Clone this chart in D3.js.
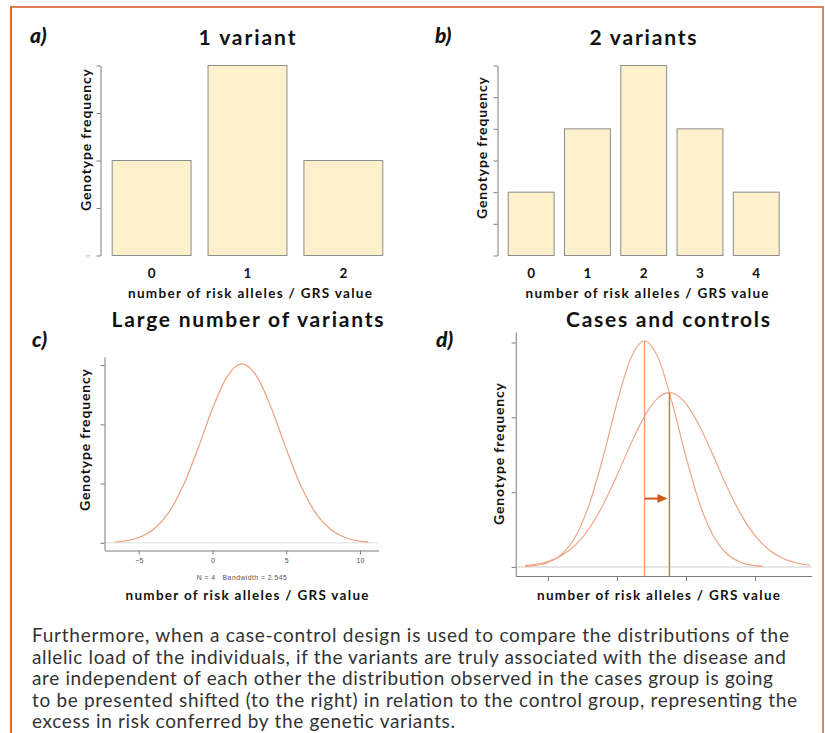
<!DOCTYPE html>
<html>
<head>
<meta charset="utf-8">
<script src="https://cdn.jsdelivr.net/npm/d3@7"></script>
<style>
  body { margin: 0; background: #fff; }
  svg { display: block; }
</style>
</head>
<body>
<svg id="fig" width="825" height="733"></svg>
<script>
// ---- a) one variant: genotype counts per number of risk alleles
const alleles1 = ["0", "1", "2"];
const freq1 = [1, 2, 1];
const yTicks1 = [0, 0.5, 1, 1.5, 2];

// ---- b) two variants
const alleles2 = ["0", "1", "2", "3", "4"];
const freq2 = [2, 4, 6, 4, 2];
const yTicks2 = [0, 1, 2, 3, 4, 5, 6];

// ---- c) large number of variants: density of the GRS
const grsX = [-6.64, -6, -5, -4, -3, -2, -1, 0, 1, 2, 3, 4, 5, 6, 7, 8, 9, 10, 10.57];
const grsDensity = [0.0007, 0.0015, 0.0045, 0.0114, 0.0251, 0.0479, 0.0792, 0.1134, 0.1405, 0.151,
                    0.1405, 0.1134, 0.0792, 0.0479, 0.0251, 0.0114, 0.0045, 0.0015, 0.0008];
const xTicksC = [-5, 0, 5, 10];
const yTicksDens = [0, 0.05, 0.10, 0.15];
const densityNote = "N = 4   Bandwidth = 2.545";

// ---- d) cases and controls
const controlX = [-6.64, -6, -5, -4, -3, -2, -1, 0, 1, 2, 3, 4, 5, 6, 7, 8, 9, 10, 10.57];
const controlDensity = [0.0004, 0.0009, 0.003, 0.0085, 0.0204, 0.042, 0.0735, 0.1096, 0.1394, 0.151,
                        0.1394, 0.1096, 0.0735, 0.042, 0.0204, 0.0085, 0.003, 0.0009, 0.0004];
const caseX = [-6.64, -6, -5, -4, -3, -2, -1, 0, 1, 2, 3, 3.8, 4, 5, 6, 7, 8, 9, 10, 11, 12, 13, 14];
const caseDensity = [0.0009, 0.0016, 0.0037, 0.0077, 0.0148, 0.0259, 0.0416, 0.0611, 0.0821, 0.1008,
                     0.1132, 0.1165, 0.1163, 0.1092, 0.0939, 0.0738, 0.053, 0.0348, 0.0209, 0.0115,
                     0.0058, 0.0027, 0.0011];
const xTicksD = [-5, 0, 5, 10];
const xLimD = [-7.33, 14.1];
const arrowLevel = 0.0457;

const panelTitles = ["1 variant", "2 variants", "Large number of variants", "Cases and controls"];
const panelLetters = ["a)", "b)", "c)", "d)"];
const xAxisTitle = "number of risk alleles / GRS value";
const yAxisTitle = "Genotype frequency";

const paragraph = [
  "Furthermore, when a case-control design is used to compare the distributions of the",
  "allelic load of the individuals, if the variants are truly associated with the disease and",
  "are independent of each other the distribution observed in the cases group is going",
  "to be presented shifted (to the right) in relation to the control group, representing the",
  "excess in risk conferred by the genetic variants."
];

// ------------------------------------------------------------------
const svg = d3.select("#fig");
const SANS = "Lato, 'Open Sans', sans-serif";
const AXIS = "#7d7d7d";
const INK = "#111";
const CURVE = "#f0a07e";

// outer frame
svg.append("line").attr("x1", 11).attr("x2", 823).attr("y1", 7).attr("y2", 7)
  .attr("stroke", "#dc7f52").attr("stroke-width", 2);
svg.append("line").attr("x1", 11).attr("x2", 11).attr("y1", 6).attr("y2", 733)
  .attr("stroke", "#e2652b").attr("stroke-width", 2);
svg.append("line").attr("x1", 823).attr("x2", 823).attr("y1", 6).attr("y2", 733)
  .attr("stroke", "#d6875f").attr("stroke-width", 2);

function boldText(x, y, str, size, len, anchor = "middle") {
  const t = svg.append("text").attr("x", x).attr("y", y).text(str)
    .attr("font-family", SANS).attr("font-weight", 700).attr("font-size", size)
    .attr("fill", INK).attr("text-anchor", anchor);
  if (len) t.attr("textLength", len).attr("lengthAdjust", "spacing");
  return t;
}
function letter(x, y, str) {
  svg.append("text").attr("x", x).attr("y", y).text(str)
    .attr("font-family", SANS).attr("font-weight", 900).attr("font-style", "italic")
    .attr("font-size", 21).attr("fill", INK);
}
function yTitle(cx, cy) {
  svg.append("text").attr("transform", `translate(${cx},${cy}) rotate(-90)`)
    .attr("text-anchor", "middle").attr("dy", "0.35em").text(yAxisTitle)
    .attr("font-family", SANS).attr("font-weight", 700).attr("font-size", 14)
    .attr("fill", INK).attr("textLength", 142).attr("lengthAdjust", "spacing");
}
function styleAxis(g) {
  g.attr("color", AXIS);
  g.selectAll("path, line").attr("stroke-width", 1);
}

// ---- bar panels
function barPanel(cats, vals, ticks, xr, axisX, zeroLabel) {
  const x = d3.scaleBand().domain(cats).range(xr).paddingInner(1 / 6).paddingOuter(1 / 12);
  const y = d3.scaleLinear().domain([0, d3.max(ticks)]).range([255, 65]);
  const g = svg.append("g");
  g.selectAll("rect").data(vals).join("rect")
    .attr("x", (d, i) => x(cats[i]) + 0.5).attr("y", d => y(d) + 0.5)
    .attr("width", x.bandwidth() - 1).attr("height", d => y(0) - y(d))
    .attr("fill", "#fdf1cb").attr("stroke", "#8c8c8c").attr("stroke-width", 1);
  const ax = g.append("g").attr("transform", `translate(${axisX + 0.5},0.5)`)
    .call(d3.axisLeft(y).tickValues(ticks).tickSize(4).tickSizeOuter(0)
      .tickFormat(d => (zeroLabel && d === 0) ? "0" : ""));
  styleAxis(ax);
  ax.selectAll("text").attr("font-size", 6).attr("fill", "#aaa")
    .attr("transform", "rotate(-90)").attr("x", 0).attr("y", -11).attr("text-anchor", "middle").attr("dy", "0");
  g.selectAll(".cat").data(cats).join("text")
    .attr("x", d => x(d) + x.bandwidth() / 2).attr("y", 278).text(d => d)
    .attr("text-anchor", "middle").attr("font-family", SANS).attr("font-weight", 700)
    .attr("font-size", 13.5).attr("fill", INK);
}

barPanel(alleles1, freq1, yTicks1, [103.7, 391.3], 100, true);
barPanel(alleles2, freq2, yTicks2, [503, 784.4], 497, false);

letter(30, 43, panelLetters[0]);
letter(435, 43, panelLetters[1]);
boldText(247, 45, panelTitles[0], 21, 97);
boldText(643, 45, panelTitles[1], 21, 107);
boldText(250, 298, xAxisTitle, 13.5, 244);
boldText(647, 298, xAxisTitle, 13.5, 243);
yTitle(86, 140);
yTitle(482, 148);

// ---- c) density
(function () {
  const span = grsX[grsX.length - 1] - grsX[0];
  const maxY = d3.max(grsDensity);
  const x = d3.scaleLinear().domain([grsX[0] - 0.04 * span, grsX[grsX.length - 1] + 0.04 * span]).range([104.5, 378.5]);
  const y = d3.scaleLinear().domain([-0.04 * maxY, 1.04 * maxY]).range([550, 356.7]);
  const g = svg.append("g");
  g.append("line").attr("x1", x.range()[0]).attr("x2", x.range()[1]).attr("y1", y(0)).attr("y2", y(0))
    .attr("stroke", "#dedede").attr("stroke-width", 1);
  const pts = grsX.map((v, i) => [v, grsDensity[i]]);
  g.append("path").datum(pts)
    .attr("d", d3.line().x(d => x(d[0])).y(d => y(d[1])).curve(d3.curveMonotoneX))
    .attr("fill", "none").attr("stroke", CURVE).attr("stroke-width", 1.2);
  const ax = g.append("g").attr("transform", `translate(0,${y.range()[0] + 0.5})`)
    .call(d3.axisBottom(x).tickValues(xTicksC).tickSize(4).tickSizeOuter(0));
  styleAxis(ax);
  ax.selectAll("text").attr("font-family", "'Liberation Sans', Arial, sans-serif")
    .attr("font-size", 7).attr("fill", "#555").attr("y", 8);
  const ay = g.append("g").attr("transform", `translate(${x.range()[0]},0)`)
    .call(d3.axisLeft(y).tickValues(yTicksDens).tickSize(4).tickSizeOuter(0).tickFormat(""));
  styleAxis(ay);
  g.append("text").attr("x", 241.7).attr("y", 580).attr("text-anchor", "middle").text(densityNote)
    .style("white-space", "pre")
    .attr("font-family", "'Liberation Sans', Arial, sans-serif").attr("font-size", 6.8).attr("fill", "#555")
    .attr("textLength", 90).attr("lengthAdjust", "spacing");
})();

letter(32, 347, panelLetters[2]);
boldText(247.5, 327, panelTitles[2], 21, 272);
boldText(247, 600, xAxisTitle, 13.5, 243);
yTitle(85, 440);

// ---- d) cases vs controls
(function () {
  const maxY = d3.max(controlDensity);
  const x = d3.scaleLinear().domain(xLimD).range([515.7, 811.7]);
  const y = d3.scaleLinear().domain([-0.04 * maxY, 1.04 * maxY]).range([576, 332]);
  const g = svg.append("g");
  g.append("line").attr("x1", x.range()[0]).attr("x2", x.range()[1]).attr("y1", y(0)).attr("y2", y(0))
    .attr("stroke", "#dedede").attr("stroke-width", 1.5);
  const line = d3.line().x(d => x(d[0])).y(d => y(d[1])).curve(d3.curveMonotoneX);
  const ctrl = controlX.map((v, i) => [v, controlDensity[i]]);
  const cases = caseX.map((v, i) => [v, caseDensity[i]]);
  g.append("path").datum(ctrl).attr("d", line).attr("fill", "none").attr("stroke", CURVE).attr("stroke-width", 1.1);
  g.append("path").datum(cases).attr("d", line).attr("fill", "none").attr("stroke", CURVE).attr("stroke-width", 1.1);

  // mode of each distribution
  const ctrlPeak = ctrl[d3.maxIndex(controlDensity)];
  const casePeak = cases[d3.maxIndex(caseDensity)];
  g.append("line").attr("x1", x(ctrlPeak[0])).attr("x2", x(ctrlPeak[0]))
    .attr("y1", y.range()[0]).attr("y2", y(ctrlPeak[1]))
    .attr("stroke", "#ee9a6c").attr("stroke-width", 1.3);
  g.append("line").attr("x1", x(casePeak[0])).attr("x2", x(casePeak[0]))
    .attr("y1", y.range()[0]).attr("y2", y(casePeak[1]))
    .attr("stroke", "#d8703e").attr("stroke-width", 1.4);

  // shift arrow
  const ay0 = y(arrowLevel), ax0 = x(ctrlPeak[0]), ax1 = x(casePeak[0]) - 2;
  g.append("line").attr("x1", ax0).attr("x2", ax1 - 8).attr("y1", ay0).attr("y2", ay0)
    .attr("stroke", "#d4581c").attr("stroke-width", 2);
  g.append("path").attr("d", `M${ax1 - 10},${ay0 - 4.5} L${ax1},${ay0} L${ax1 - 10},${ay0 + 4.5} Z`)
    .attr("fill", "#d4581c");

  const axb = g.append("g").attr("transform", `translate(0,${y.range()[0]})`)
    .call(d3.axisBottom(x).tickValues(xTicksD).tickSize(5).tickSizeOuter(0).tickFormat(""));
  styleAxis(axb);
  const axl = g.append("g").attr("transform", `translate(${x.range()[0]},0)`)
    .call(d3.axisLeft(y).tickValues(yTicksDens).tickSize(4).tickSizeOuter(0).tickFormat(""));
  styleAxis(axl);
})();

letter(436, 347, panelLetters[3]);
boldText(668, 327, panelTitles[3], 21, 204);
boldText(658.5, 600, xAxisTitle, 13.5, 243);
yTitle(499, 454);

// ---- explanatory paragraph
const lineEnds = [789, 786, 773, 797, 455];
svg.append("g").selectAll("text").data(paragraph).join("text")
  .attr("x", 32).attr("y", (d, i) => 642 + i * 21.6).text(d => d)
  .attr("font-family", SANS).attr("font-size", 19).attr("fill", "#333")
  .attr("textLength", (d, i) => lineEnds[i] - 32).attr("lengthAdjust", "spacing");
</script>
</body>
</html>
